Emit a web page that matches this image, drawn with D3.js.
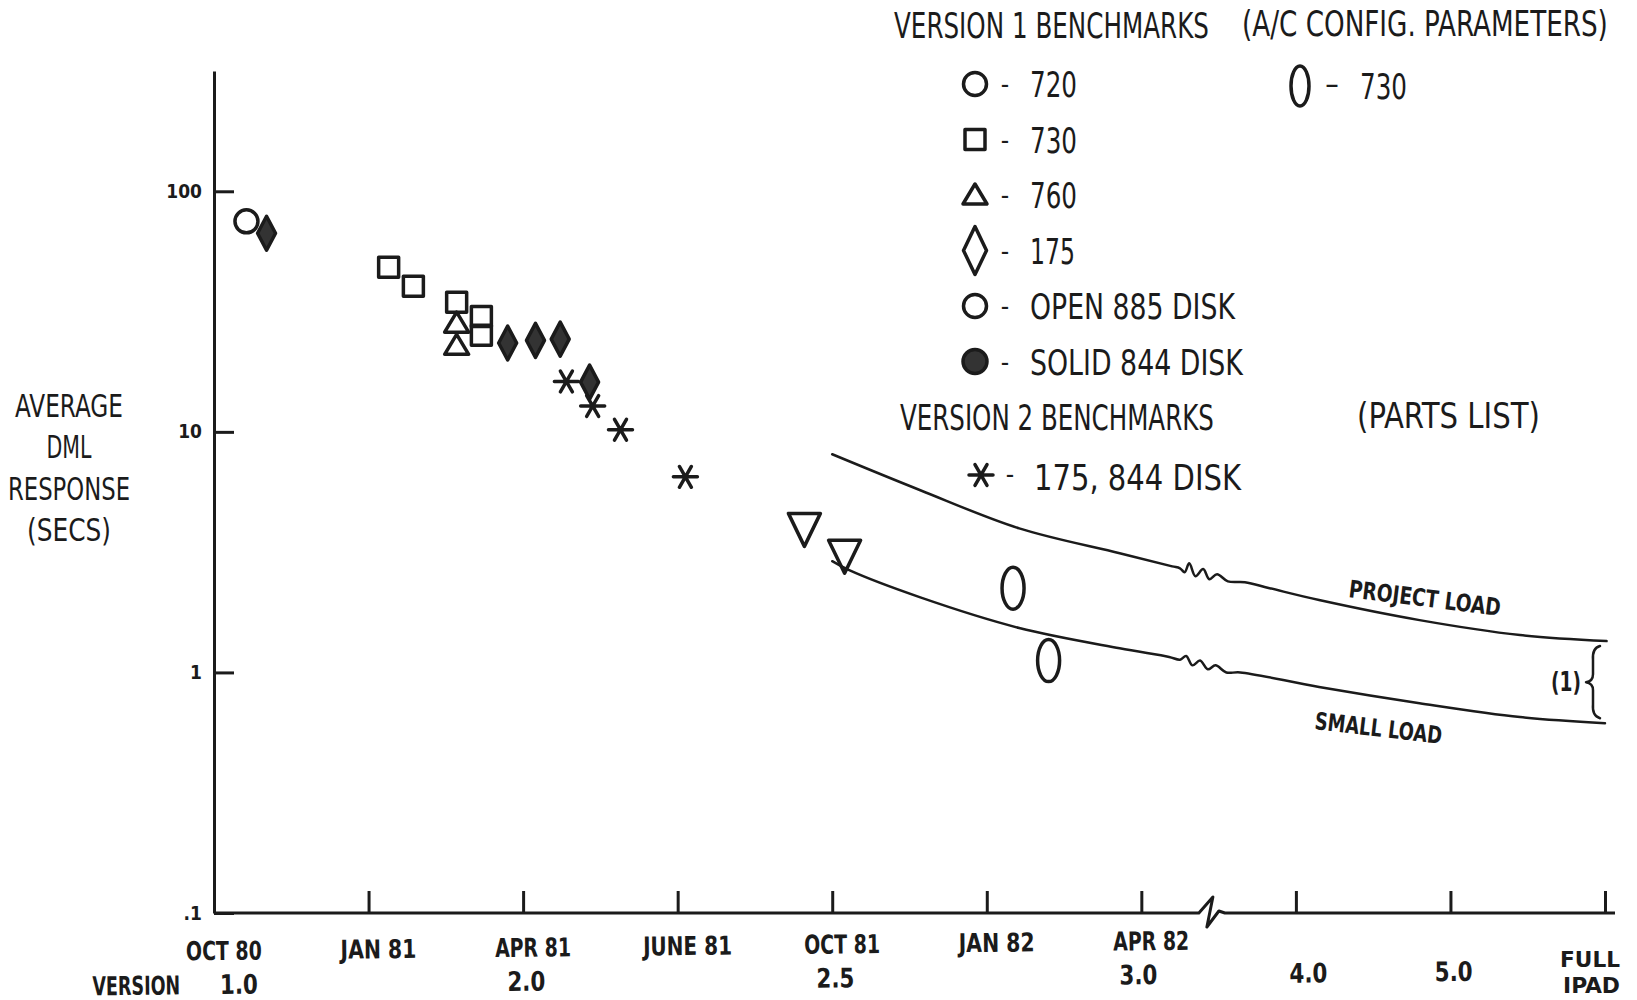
<!DOCTYPE html>
<html lang="en">
<head>
<meta charset="utf-8">
<title>Average DML response</title>
<style>
body { margin: 0; background: #fff; }
svg { display: block; }
text { font-family: "Liberation Sans Narrow", "DejaVu Sans Condensed", "Roboto Condensed", "Arial Narrow", sans-serif; fill: #1b1b1b; }
.bold { font-weight: bold; }
.axis path, .axis line { stroke: #1b1b1b; stroke-width: 3; }
.mark { fill: none; stroke: #1b1b1b; stroke-width: 3.5; stroke-linejoin: round; stroke-linecap: round; }
.solid { fill: #333; }
.curve { fill: none; stroke: #1b1b1b; stroke-width: 2.5; stroke-linejoin: round; stroke-linecap: round; }
</style>
</head>
<body>
<svg width="1637" height="1000"></svg>
<script src="https://cdn.jsdelivr.net/npm/d3@7/dist/d3.min.js"></script>
<script>

// x is in tick steps: 0 = OCT 80 ... 6 = APR 82, 7 = 4.0, 8 = 5.0, 9 = FULL IPAD
const xTickSteps = [1, 2, 3, 4, 5, 6, 7, 8, 9];
const monthLabels = ['OCT 80', 'JAN 81', 'APR 81', 'JUNE 81', 'OCT 81', 'JAN 82', 'APR 82'];
const versionLabels = ['1.0', '2.0', '2.5', '3.0', '4.0', '5.0'];
const versionSteps = [0.14, 2, 4, 5.96, 7.06, 8];
const yTicks = [100, 10, 1, 0.1];
const yTickLabels = ['100', '10', '1', '.1'];
const breakStep = 6.45;

// [step, seconds]
const v1_720 = [[0.21, 75]];
const v1_730 = [[1.13, 48.3], [1.29, 40.3], [1.57, 34.6], [1.73, 30.2], [1.73, 25.2]];
const v1_760 = [[1.57, 28.3], [1.57, 22.9]];
const v1_175 = [[0.34, 66.9], [1.90, 23.4], [2.08, 24.0], [2.24, 24.3], [2.43, 16.1]];
const v2_175 = [[2.28, 16.2], [2.45, 12.8], [2.63, 10.2], [3.05, 6.5]];
const v25 = [[3.82, 3.97], [4.08, 3.07]];
const parts730 = [[5.17, 2.24], [5.40, 1.12]];

const projectLoad = [[4.00, 8.07], [4.57, 5.72], [5.21, 3.97], [5.86, 3.13], [6.20, 2.76],
  [6.25, 2.71], [6.28, 2.61], [6.31, 2.84], [6.35, 2.51], [6.40, 2.69], [6.44, 2.44],
  [6.49, 2.56], [6.56, 2.39], [6.67, 2.37], [6.83, 2.24], [7.15, 2.00], [7.80, 1.65],
  [8.45, 1.43], [9.01, 1.35]];
const smallLoad = [[4.00, 2.90], [4.11, 2.66], [4.57, 2.05], [5.21, 1.53], [5.86, 1.26],
  [6.18, 1.16], [6.25, 1.13], [6.29, 1.17], [6.33, 1.07], [6.38, 1.12], [6.43, 1.03],
  [6.48, 1.07], [6.55, 1.00], [6.64, 1.00], [7.15, 0.87], [7.80, 0.745], [8.45, 0.652],
  [9.00, 0.615]];

const legend1 = ['720', '730', '760', '175', 'OPEN 885 DISK', 'SOLID 844 DISK'];
const legend1Shapes = ['circle', 'square', 'triUp', 'diamondTall', 'circle', 'dot'];
const legend1Widths = [47, 47, 47, 45, 205, 213];

const svg = d3.select('svg');

let x = d3.scaleLinear().domain([0, 9]).range([214, 1605]);
let y = d3.scaleLog().domain([0.1, Math.pow(10, 2.5)]).range([913, 71]);

const shapes = {
  square: 'M-10,-10h20v20h-20Z',
  triUp: 'M0,-11L12,9L-12,9Z',
  triDown: 'M-16,-15L16,-15L0,18Z',
  diamond: 'M0,-17L9,0L0,17L-9,0Z',
  diamondTall: 'M0,-24L11.5,0L0,24L-11.5,0Z',
  star: 'M-12,0L12,0M-6,-10.4L6,10.4M6,-10.4L-6,10.4',
  circle: 'M-11.5,0a11.5,11.5 0 1,0 23,0a11.5,11.5 0 1,0 -23,0',
  dot: 'M-12,0a12,12 0 1,0 24,0a12,12 0 1,0 -24,0',
  oval: 'M-11,0a11,21 0 1,0 22,0a11,21 0 1,0 -22,0'
};

// text squeezed horizontally to the width it has in the scan
function addText(g, str, px, py, size, opts) {
  opts = opts || {};
  let t = g.append('text')
    .attr('font-size', size)
    .attr('text-anchor', opts.anchor || 'start')
    .text(str);
  if (opts.bold) t.attr('class', 'bold');
  let sx = opts.len ? opts.len / t.node().getComputedTextLength() : 1;
  t.attr('transform', 'translate(' + px + ',' + py + ')' +
    (opts.rotate ? ' rotate(' + opts.rotate + ')' : '') + ' scale(' + sx + ',1)');
  return t;
}

// axes
const yAxis = svg.append('g')
  .attr('class', 'axis')
  .attr('transform', 'translate(' + x(0) + ',0)')
  .call(d3.axisLeft(y).tickValues(yTicks).tickSize(-20).tickSizeOuter(0).tickPadding(12)
    .tickFormat((d, i) => yTickLabels[i]));
yAxis.selectAll('text').attr('font-size', 19).attr('class', 'bold');

const xAxis = svg.append('g')
  .attr('class', 'axis')
  .attr('transform', 'translate(0,' + y(0.1) + ')')
  .call(d3.axisBottom(x).tickValues(xTickSteps).tickSize(-22).tickSizeOuter(0).tickFormat(''));
xAxis.select('.domain').remove();

// x axis line with a break
const bx = x(breakStep);
const axisPts = [[x(0), 0], [bx - 12, 0], [bx + 2, -16], [bx - 4, 14], [bx + 8, -2], [bx + 14, 0], [x(9) + 10, 0]];
xAxis.append('path')
  .attr('d', d3.line()(axisPts))
  .attr('fill', 'none')
  .attr('stroke-linejoin', 'round');

// axis labels (hand lettered, drifting up to the right)
const labels = svg.append('g').attr('transform', 'rotate(-0.6,' + x(0) + ',960)');
monthLabels.forEach((m, i) => {
  addText(labels, m, x(i) + 10, 960, 26, {anchor: 'middle', bold: true, len: m.length > 6 ? 89 : 76});
});
addText(labels, 'VERSION', 136, 994, 26, {anchor: 'middle', bold: true, len: 88});
versionLabels.forEach((v, i) => {
  addText(labels, v, x(versionSteps[i]) + 3, 994, 27, {anchor: 'middle', bold: true, len: 38});
});
addText(svg, 'FULL', x(9) + 15, 967, 22, {anchor: 'end', bold: true, len: 60});
addText(svg, 'IPAD', x(9) + 15, 993, 22, {anchor: 'end', bold: true, len: 57});

const yTitle = svg.append('g');
[['AVERAGE', 417, 108], ['DML', 458, 45], ['RESPONSE', 500, 122], ['(SECS)', 541, 84]].forEach(r => {
  addText(yTitle, r[0], 69, r[1], 32, {anchor: 'middle', len: r[2]});
});

// curves
const line = d3.line().x(d => x(d[0])).y(d => y(d[1])).curve(d3.curveCatmullRom);
svg.append('path').attr('class', 'curve').attr('d', line(projectLoad));
svg.append('path').attr('class', 'curve').attr('d', line(smallLoad));

const pEnd = projectLoad[projectLoad.length - 1];
const sEnd = smallLoad[smallLoad.length - 1];
addText(svg, 'PROJECT LOAD', 1348, 597, 24, {bold: true, len: 153, rotate: 7.1});
addText(svg, 'SMALL LOAD', 1314, 729, 24, {bold: true, len: 128, rotate: 6.7});

// brace between the two curve ends
const bTop = y(pEnd[1]) + 5, bBot = y(sEnd[1]) - 5, bMid = (bTop + bBot) / 2, bX = x(9) - 5;
svg.append('path').attr('class', 'curve')
  .attr('d', 'M' + bX + ',' + bTop + 'Q' + (bX - 8) + ',' + (bTop + 2) + ' ' + (bX - 7) + ',' + (bTop + 14) +
    'L' + (bX - 7) + ',' + (bMid - 8) + 'Q' + (bX - 7) + ',' + (bMid - 1) + ' ' + (bX - 14) + ',' + bMid +
    'Q' + (bX - 7) + ',' + (bMid + 1) + ' ' + (bX - 7) + ',' + (bMid + 8) +
    'L' + (bX - 7) + ',' + (bBot - 14) + 'Q' + (bX - 8) + ',' + (bBot - 2) + ' ' + bX + ',' + bBot);
addText(svg, '(1)', bX - 19, bMid + 9, 26, {anchor: 'end', bold: true, len: 30});

// markers
function drawMarks(data, shape, cls) {
  svg.append('g')
    .selectAll('path')
    .data(data)
    .enter().append('path')
      .attr('class', 'mark' + (cls ? ' ' + cls : ''))
      .attr('transform', d => 'translate(' + x(d[0]) + ',' + y(d[1]) + ')')
      .attr('d', shapes[shape]);
}
drawMarks(v1_720, 'circle');
drawMarks(v1_730, 'square');
drawMarks(v1_760, 'triUp');
drawMarks(v1_175, 'diamond', 'solid');
drawMarks(v2_175, 'star');
drawMarks(v25, 'triDown');
drawMarks(parts730, 'oval');

// legend
const lg = svg.append('g');
addText(lg, 'VERSION 1 BENCHMARKS', 894, 38, 36, {len: 315});
addText(lg, '(A/C CONFIG. PARAMETERS)', 1242, 36, 36, {len: 366});
legend1.forEach((name, i) => {
  const by = 97 + i * 55.5;
  lg.append('path')
    .attr('class', 'mark' + (legend1Shapes[i] === 'dot' ? ' solid' : ''))
    .attr('transform', 'translate(975,' + (by - 13) + ')')
    .attr('d', shapes[legend1Shapes[i]]);
  addText(lg, '-', 1005, by - 4, 26, {anchor: 'middle'});
  addText(lg, name, 1030, by, 36, {len: legend1Widths[i]});
});
lg.append('path').attr('class', 'mark').attr('stroke-width', 3)
  .attr('transform', 'translate(1300,86)').attr('d', 'M-9,0a9,20 0 1,0 18,0a9,20 0 1,0 -18,0');
addText(lg, '–', 1332, 94, 30, {anchor: 'middle'});
addText(lg, '730', 1360, 99, 36, {len: 47});

addText(lg, 'VERSION 2 BENCHMARKS', 900, 430, 36, {len: 314});
addText(lg, '(PARTS LIST)', 1357, 428, 36, {len: 183});
lg.append('path').attr('class', 'mark').attr('transform', 'translate(981,475)').attr('d', shapes.star);
addText(lg, '-', 1010, 483, 26, {anchor: 'middle'});
addText(lg, '175, 844 DISK', 1034, 490, 36, {len: 207});

</script>
</body>
</html>
